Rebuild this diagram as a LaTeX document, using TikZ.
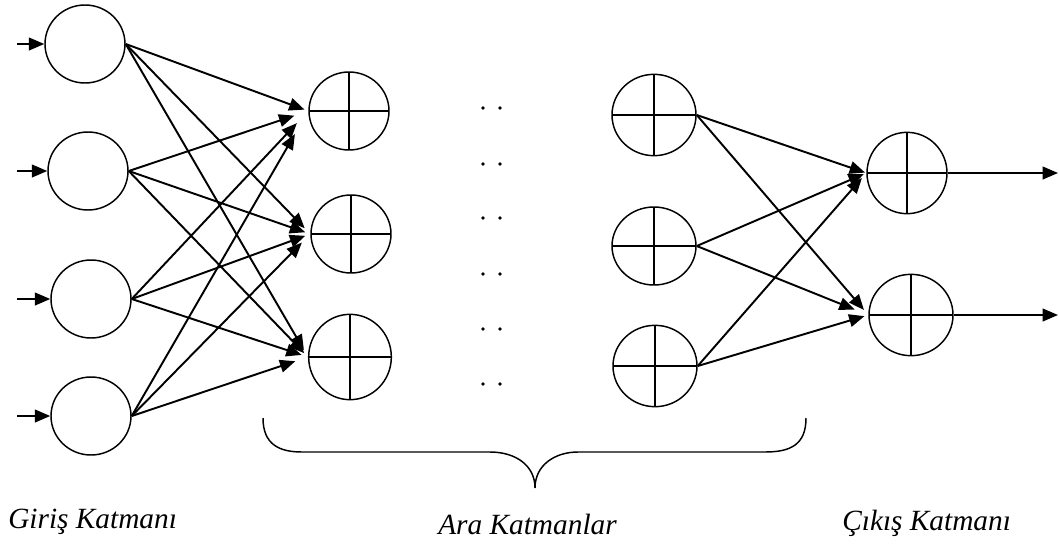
\documentclass[tikz,border=0pt]{standalone}
\usepackage{fontspec}
\setmainfont{Liberation Serif}
\usetikzlibrary{shapes.geometric,arrows.meta}
\begin{document}
\begin{tikzpicture}[x=0.75pt,y=-0.75pt,
  neuron/.style={ellipse,draw,line width=1.1pt,minimum width=60pt,minimum height=58.5pt,inner sep=0pt},
  sumneuron/.style={neuron,path picture={
     \draw[line width=1.1pt] (path picture bounding box.north) -- (path picture bounding box.south);
     \draw[line width=1.1pt] (path picture bounding box.west) -- (path picture bounding box.east);}},
  conn/.style={-{Triangle[length=11.5pt,width=9.5pt]},line width=1.45pt},
  lbl/.style={font=\fontsize{22pt}{25pt}\selectfont\itshape,inner sep=0pt,anchor=base west},
  dotm/.style={fill=black}]
\useasboundingbox (0,0) rectangle (1059,543);
% input layer
\node[neuron] (in1) at (85,44) {};
\node[neuron] (in2) at (88,171) {};
\node[neuron] (in3) at (91,299) {};
\node[neuron] (in4) at (91,416) {};
% hidden layer 1
\node[sumneuron] (ha) at (349,111) {};
\node[sumneuron] (hb) at (351,234) {};
\node[sumneuron,minimum width=62pt,minimum height=64pt] (hc) at (350,357) {};
% hidden layer 2
\node[sumneuron,minimum width=63pt,minimum height=61pt] (ga) at (654,115) {};
\node[sumneuron,minimum width=63pt] (gb) at (654,246) {};
\node[sumneuron,minimum width=63pt,minimum height=61pt] (gc) at (655,366) {};
% output layer
\node[sumneuron,minimum width=60pt,minimum height=61pt] (oa) at (907,173) {};
\node[sumneuron,minimum width=63pt,minimum height=61pt] (ob) at (911,315) {};
% input arrows
\coordinate (s1) at (17,44);
\coordinate (s2) at (17,171);
\coordinate (s3) at (17,299);
\coordinate (s4) at (17,416);
\draw[conn] (s1) -- (in1.west);
\draw[conn] (s2) -- (in2.west);
\draw[conn] (s3) -- (in3.west);
\draw[conn] (s4) -- (in4.west);
% input -> hidden 1
\draw[conn,shorten >=3pt] (in1.east) -- (ha.west);
\draw[conn,shorten >=11pt] (in2.east) -- (ha.west);
\draw[conn,shorten >=12.5pt] (in3.east) -- (ha.west);
\draw[conn,shorten >=20pt] (in4.east) -- (ha.west);
\draw[conn,shorten >=6pt] (in1.east) -- (hb.west);
\draw[conn,shorten >=4pt] (in2.east) -- (hb.west);
\draw[conn,shorten >=4pt] (in3.east) -- (hb.west);
\draw[conn,shorten >=9pt] (in4.east) -- (hb.west);
\draw[conn,shorten >=6pt] (in1.east) -- (hc.west);
\draw[conn,shorten >=4pt] (in2.east) -- (hc.west);
\draw[conn,shorten >=5pt] (in3.east) -- (hc.west);
\draw[conn,shorten >=10pt] (in4.east) -- (hc.west);
% hidden 2 -> output
\draw[conn,shorten >=1pt] (ga.east) -- (oa.west);
\draw[conn,shorten >=2pt] (gb.east) -- (oa.west);
\draw[conn,shorten >=5pt] (gc.east) -- (oa.west);
\draw[conn,shorten >=5pt] (ga.east) -- (ob.west);
\draw[conn,shorten >=11pt] (gb.east) -- (ob.west);
\draw[conn,shorten >=3pt] (gc.east) -- (ob.west);
% output arrows
\coordinate (e1) at (1058,173);
\coordinate (e2) at (1058,315);
\draw[conn] (oa.east) -- (e1);
\draw[conn] (ob.east) -- (e2);
% dots
\foreach \yy in {108,164,218,274,329,384}{
  \fill[dotm] (483,\yy) circle (1.4pt);
  \fill[dotm] (500,\yy) circle (1.4pt);
}
% brace
\draw[line width=1.1pt] (263,418) .. controls (263,445) and (280,452) .. (302,452) -- (490,452)
  .. controls (515,452) and (535,465) .. (535,488)
  .. controls (535,465) and (555,452) .. (578,452) -- (765,452)
  .. controls (790,452) and (806,445) .. (806,418);
% labels
\node[lbl] (l1) at (8,528) {Giriş Katmanı};
\node[lbl] (l2) at (438,534) {Ara Katmanlar};
\node[lbl] (l3) at (842,530) {Çıkış Katmanı};
\end{tikzpicture}
\end{document}
